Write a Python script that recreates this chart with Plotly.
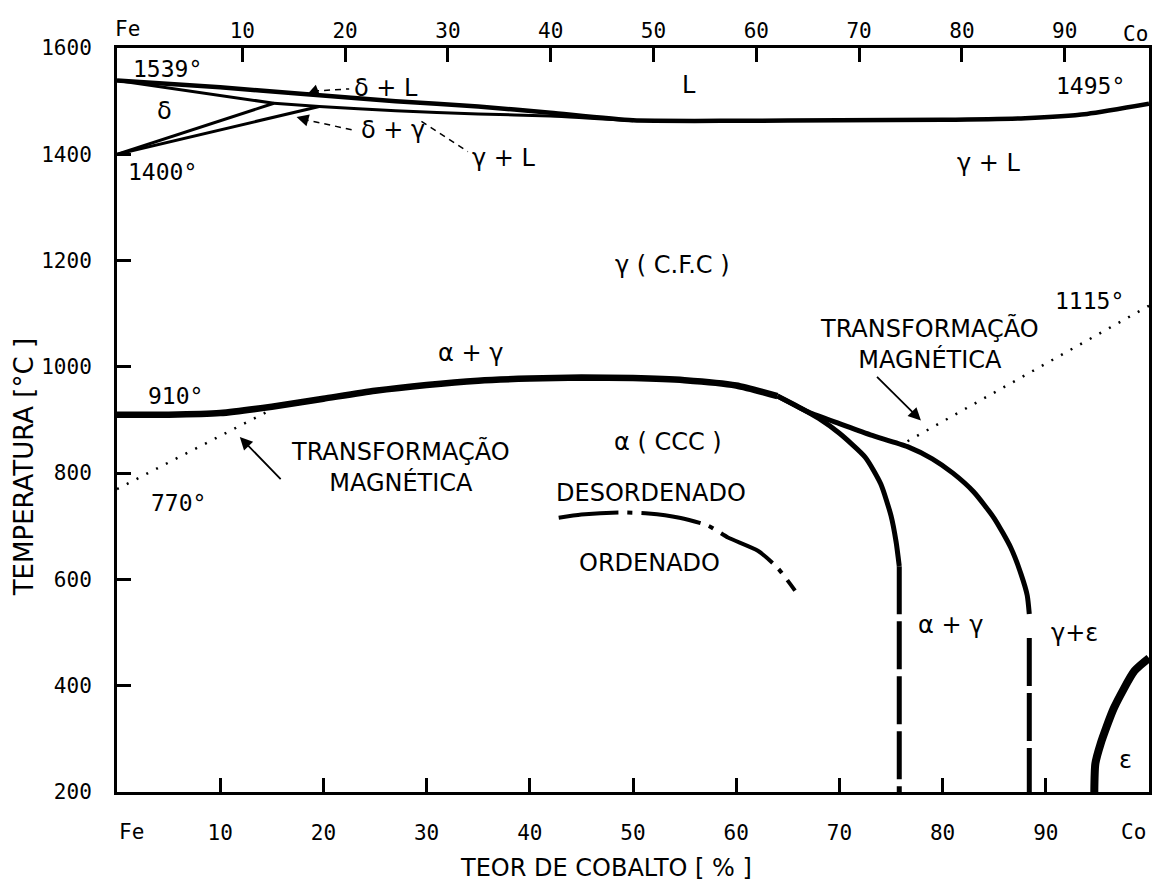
import plotly.graph_objects as go

# ---- phase boundaries of the Fe-Co system (x = % Co, y = temperature in degC) ----
liquidus_x = [0, 10, 18.4, 27, 35, 42, 50, 60, 70, 80, 88, 94, 100]
liquidus_t = [1539, 1526, 1513, 1500, 1490, 1478, 1464, 1463, 1464, 1465, 1468, 1476, 1495]

gamma_solidus_x = [15.2, 19.6, 27, 35, 42, 50]
gamma_solidus_t = [1496, 1490, 1482, 1476, 1472, 1463]

delta_solidus_x = [0, 15.2]
delta_solidus_t = [1539, 1496]

delta_gamma_upper_x = [0, 15.2]
delta_gamma_upper_t = [1400, 1496]
delta_gamma_lower_x = [0, 19.6]
delta_gamma_lower_t = [1400, 1490]

# alpha / gamma boundary (common arc, then the two branches)
ag_x = [0, 5, 10, 15, 20, 25, 30, 35, 40, 45, 50, 55, 60, 64]
ag_t = [910, 910, 913, 925, 940, 955, 966, 974, 978, 980, 979, 975, 965, 945]

outer_x = [64, 67, 70, 73, 76.6, 79, 81, 83, 85, 86.6, 87.6, 88.2, 88.4]
outer_t = [945, 915, 893, 872, 850, 827, 800, 765, 715, 660, 610, 570, 535]
outer_low_x = [88.4, 88.4]
outer_low_t = [490, 200]

inner_x = [64, 66, 68, 70, 72.5, 74, 75, 75.5, 75.8]
inner_t = [945, 925, 903, 875, 830, 780, 720, 670, 625]
inner_low_x = [75.8, 75.8]
inner_low_t = [625, 200]

# order / disorder transition
order_x = [42.8, 45, 48.6, 51.5, 54.5, 57.3, 59.2, 62.1, 64, 65.7]
order_t = [716, 722, 726, 724, 716, 701, 679, 654, 622, 579]

# epsilon boundary near pure Co
eps_x = [94.7, 94.8, 95.3, 96.6, 98.6, 100]
eps_t = [200, 253, 290, 358, 428, 452]

# magnetic transformation (Curie temperature)
mag_left_x = [0, 14.5]
mag_left_t = [770, 915]
mag_right_x = [76.6, 100]
mag_right_t = [860, 1115]

# leader lines of the small two-phase fields
lead_dl_x = [19.0, 22.5]
lead_dl_t = [1519, 1523]
lead_dg_x = [18.0, 22.8]
lead_dg_t = [1466, 1446]
lead_gl_x = [29.5, 34.0]
lead_gl_t = [1462, 1405]

# axis ticks
x_ticks = [10, 20, 30, 40, 50, 60, 70, 80, 90]
x_tick_text = ["10", "20", "30", "40", "50", "60", "70", "80", "90"]
y_ticks = [200, 400, 600, 800, 1000, 1200, 1400, 1600]
y_tick_text = ["200", "400", "600", "800", "1000", "1200", "1400", "1600"]

INK = "black"
WORD_FONT = "DejaVu Sans"
NUM_FONT = "DejaVu Sans Mono"

fig = go.Figure()


def curve(x, y, width, dash="solid", xaxis="x"):
    fig.add_trace(go.Scatter(
        x=x, y=y, mode="lines", xaxis=xaxis,
        line=dict(color=INK, width=width, dash=dash, shape="spline", smoothing=0.6),
        hoverinfo="skip", showlegend=False, cliponaxis=False,
    ))


curve(liquidus_x, liquidus_t, 4.5)
curve(gamma_solidus_x, gamma_solidus_t, 3)
curve(delta_solidus_x, delta_solidus_t, 3)
curve(delta_gamma_upper_x, delta_gamma_upper_t, 3)
curve(delta_gamma_lower_x, delta_gamma_lower_t, 3)
curve(ag_x, ag_t, 6.5)
curve(outer_x, outer_t, 5)
curve(outer_low_x, outer_low_t, 5, dash="48px,7px")
curve(inner_x, inner_t, 5)
curve(inner_low_x, inner_low_t, 5, dash="48px,7px")
curve(order_x, order_t, 4, dash="60px,9px,5px,9px")
curve(eps_x, eps_t, 8)
curve(mag_left_x, mag_left_t, 2.5, dash="2px,9px")
curve(mag_right_x, mag_right_t, 2.5, dash="2px,9px")
curve(lead_dl_x, lead_dl_t, 1.5, dash="6px,5px")
curve(lead_dg_x, lead_dg_t, 1.5, dash="6px,5px")
curve(lead_gl_x, lead_gl_t, 1.5, dash="6px,5px")

# invisible trace so the top axis is drawn
fig.add_trace(go.Scatter(x=[10, 90], y=[1600, 1600], xaxis="x2", mode="markers",
                         marker=dict(opacity=0), hoverinfo="skip", showlegend=False))


def label(text, x, y, size=24, font=WORD_FONT, ref="data", angle=0):
    kw = dict(xref="paper", yref="paper") if ref == "paper" else {}
    fig.add_annotation(x=x, y=y, text=text, showarrow=False, textangle=angle,
                       xanchor="center", yanchor="middle",
                       font=dict(family=font, size=size, color=INK), **kw)


label("1539°", 4.9, 1560, 23, NUM_FONT)
label("1400°", 4.4, 1366, 23, NUM_FONT)
label("δ", 4.6, 1481, 24)
label("δ + L", 26.1, 1525)
label("δ + γ", 26.7, 1446)
label("γ + L", 37.5, 1393)
label("L", 55.4, 1530)
label("1495°", 94.3, 1528, 23, NUM_FONT)
label("γ + L", 84.5, 1383)
label("γ ( C.F.C )", 53.8, 1191)
label("α + γ", 34.3, 1027)
label("910°", 5.7, 946, 23, NUM_FONT)
label("770°", 6.0, 743, 23, NUM_FONT)
label("1115°", 94.2, 1123, 23, NUM_FONT)
label("α ( CCC )", 53.4, 859)
label("DESORDENADO", 51.7, 763)
label("ORDENADO", 51.6, 630)
label("α + γ", 80.8, 515)
label("γ+ε", 92.8, 500)
label("ε", 97.7, 260)
label("TRANSFORMAÇÃO<br>MAGNÉTICA", 27.5, 812)
label("TRANSFORMAÇÃO<br>MAGNÉTICA", 78.7, 1044)


def px_x(px):
    return (px - 117) / 1035


def px_y(py):
    return (792 - py) / 744


# element names at the ends of the composition axis
label("Fe", px_x(132), px_y(832), 21, NUM_FONT, ref="paper")
label("Co", px_x(1136), px_y(832), 21, NUM_FONT, ref="paper")
label("Fe", px_x(128), px_y(29), 21, NUM_FONT, ref="paper")
label("Co", px_x(1138), px_y(34), 21, NUM_FONT, ref="paper")

# axis titles
label("TEOR DE COBALTO [ % ]", px_x(607), px_y(868), 24, ref="paper")
label("TEMPERATURA [°C ]", px_x(24), px_y(467), 26, ref="paper", angle=-90)


def arrow(x, y, ax, ay, size=1.4, width=1.8):
    fig.add_annotation(x=x, y=y, ax=ax, ay=ay, axref="x", ayref="y", text="",
                       showarrow=True, arrowhead=2, arrowsize=size, arrowwidth=width,
                       arrowcolor=INK)


arrow(11.9, 868, 16.0, 786)
arrow(77.9, 899, 73.5, 984)
arrow(18.4, 1512, 19.3, 1519, size=1.2, width=2)
arrow(17.4, 1470, 18.3, 1465, size=1.2, width=2)

fig.update_layout(
    width=1153, height=885,
    margin=dict(l=117, r=1, t=48, b=93),
    paper_bgcolor="white", plot_bgcolor="white",
    showlegend=False,
    xaxis=dict(
        range=[0, 100], showgrid=False, zeroline=False,
        showline=True, linecolor=INK, linewidth=3, mirror=True,
        tickvals=x_ticks, ticktext=x_tick_text,
        ticks="inside", ticklen=14, tickwidth=2.5, tickcolor=INK,
        ticklabelstandoff=20,
        tickfont=dict(family=NUM_FONT, size=21, color=INK),
    ),
    xaxis2=dict(
        overlaying="x", side="top", anchor="y",
        range=[-2.19, 98.2], showgrid=False, zeroline=False, showline=False,
        tickvals=x_ticks, ticktext=x_tick_text,
        ticks="inside", ticklen=14, tickwidth=2.5, tickcolor=INK,
        ticklabelstandoff=5,
        tickfont=dict(family=NUM_FONT, size=21, color=INK),
    ),
    yaxis=dict(
        range=[200, 1600], showgrid=False, zeroline=False,
        showline=True, linecolor=INK, linewidth=3, mirror=True,
        tickvals=y_ticks, ticktext=y_tick_text,
        ticks="inside", ticklen=14, tickwidth=2.5, tickcolor=INK,
        ticklabelstandoff=18,
        tickfont=dict(family=NUM_FONT, size=21, color=INK),
    ),
)

fig.write_html("out.html")
